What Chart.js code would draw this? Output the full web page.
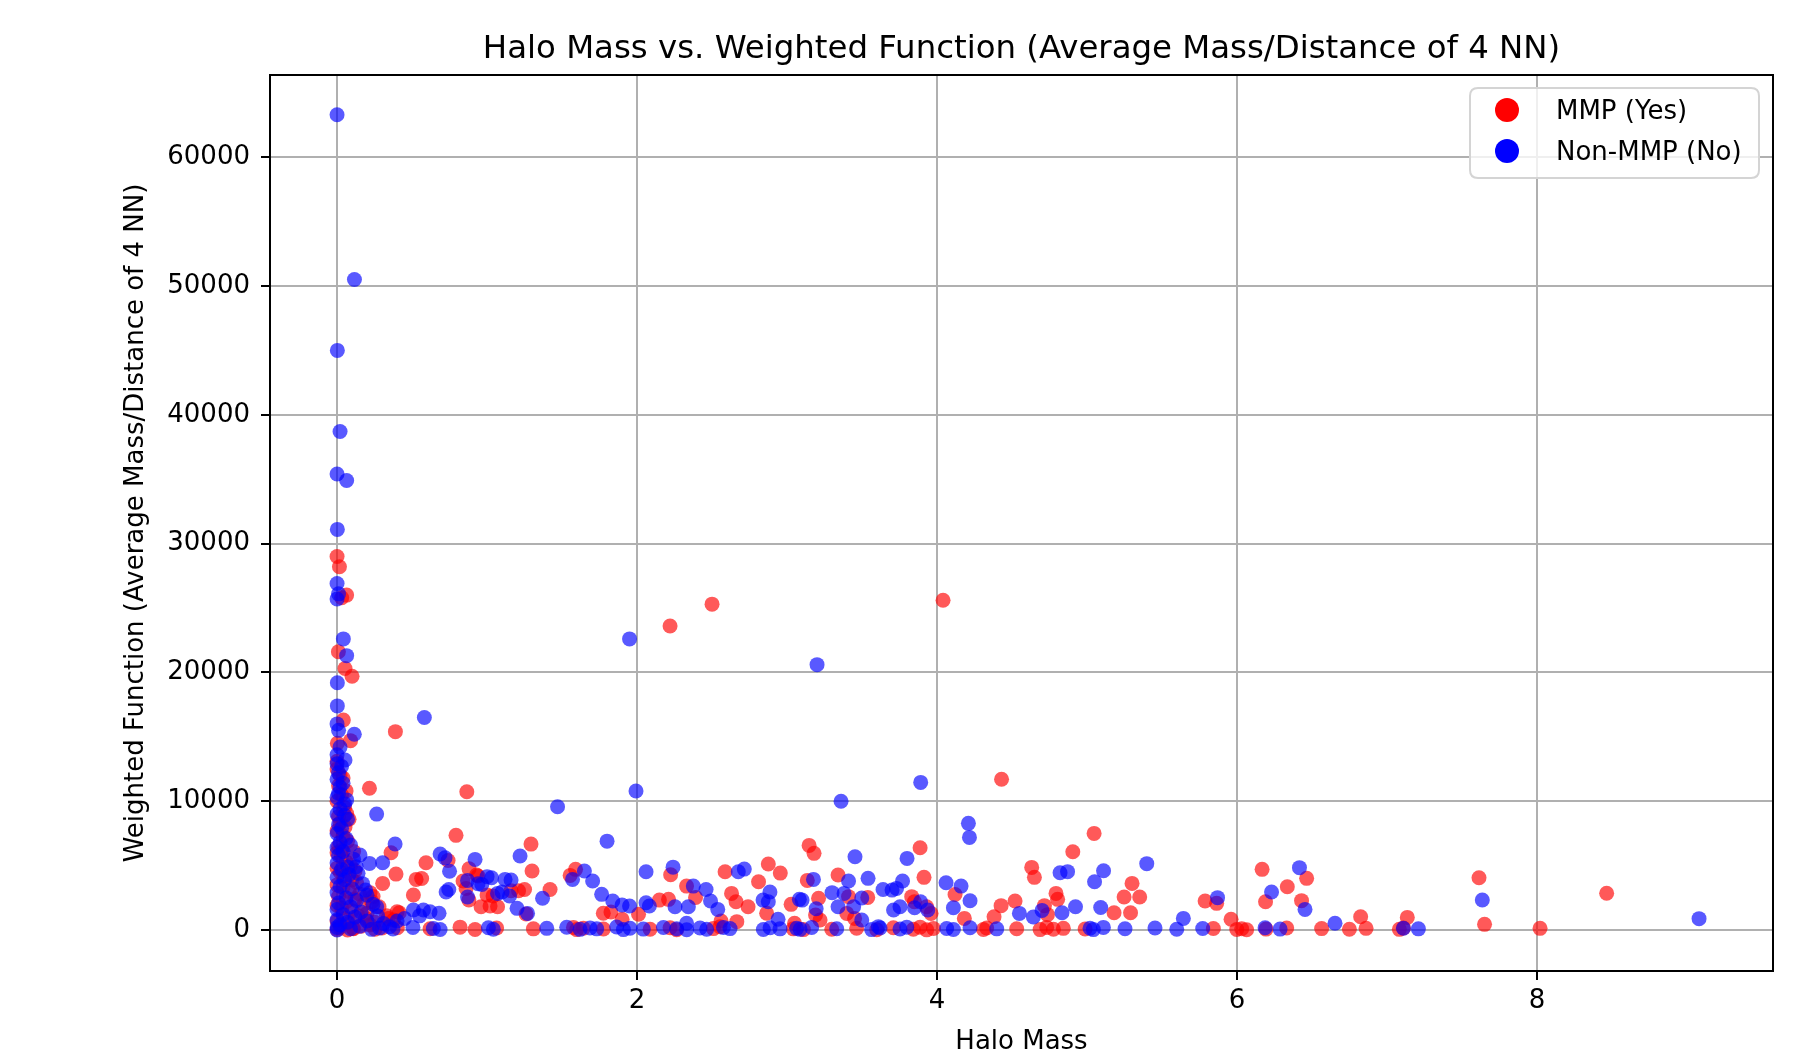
<!DOCTYPE html>
<html><head><meta charset="utf-8">
<script src="https://cdn.jsdelivr.net/npm/chart.js@4.4.1/dist/chart.umd.min.js"></script>
<style>html,body{margin:0;padding:0;background:#fff;}canvas{display:block;}</style>
</head><body>
<canvas id="c" width="1796" height="1053"></canvas>
<script>
const chartTitle = 'Halo Mass vs. Weighted Function (Average Mass/Distance of 4 NN)';
const xAxisTitle = 'Halo Mass';
const yAxisTitle = 'Weighted Function (Average Mass/Distance of 4 NN)';
const seriesLabels = ['MMP (Yes)', 'Non-MMP (No)'];
const seriesFill = ['rgba(255,0,0,0.65)', 'rgba(0,0,255,0.65)'];
const legendFill = ['#ff0000', '#0000ff'];
const xTicks = [0, 2, 4, 6, 8];
const yTicks = [0, 10000, 20000, 30000, 40000, 50000, 60000];
const xRange = [-0.447, 9.573];
const yRange = [-3183, 66381];

// MMP (Yes): [halo mass, weighted function]
const mmpPoints = [
 [0.000,29000],[0.016,28200],[0.064,26000],[0.031,25800],[0.009,21600],[0.053,20300],[0.100,19700],[0.042,16300],
 [0.090,14700],[0.002,14500],[0.000,13100],[0.389,15400],[0.216,11000],[0.064,9050],[0.053,8000],
 [0.000,12500],[0.020,12000],[0.040,11800],[0.010,11200],[0.060,10800],[0.030,10500],[0.000,10000],[0.050,9500],
 [0.010,8800],[0.080,8600],[0.020,8300],[0.000,7700],[0.040,7300],[0.070,6900],[0.010,6500],[0.030,6200],
 [0.110,6100],[0.000,6000],[0.030,5700],[0.060,5300],[0.090,5000],[0.000,4800],[0.120,4600],[0.020,4500],
 [0.050,4200],[0.100,3900],[0.130,3700],[0.000,3500],[0.040,3300],[0.080,3000],[0.150,2800],[0.010,2600],
 [0.240,2600],[0.120,2400],[0.060,2200],[0.180,2000],[0.000,1900],[0.280,1800],[0.030,1700],[0.100,1500],
 [0.200,1300],[0.140,1100],[0.330,1100],[0.050,900],[0.190,900],[0.000,700],[0.250,600],[0.080,500],
 [0.220,400],[0.160,300],[0.020,200],[0.300,150],[0.110,100],[0.000,50],[0.070,0],
 [0.360,6000],[0.593,5220],[0.393,4340],[0.564,4000],[0.304,3620],[0.220,2900],[0.509,2720],[0.231,2200],
 [0.415,1340],[0.376,780],[0.400,1420],[0.340,900],[0.527,3930],
 [0.865,10730],[0.793,7350],[1.293,6670],[0.740,5400],[0.880,4760],[0.940,4190],[1.300,4580],[0.840,3800],
 [0.860,3230],[1.250,3150],[1.210,3050],[1.040,2640],[1.020,1860],[1.070,1810],[1.420,3150],[1.554,4240],
 [1.590,4710],[1.826,1400],[1.775,1300],[1.900,830],[2.010,1220],[2.224,4290],[2.149,2320],[2.210,2380],
 [2.330,3410],[2.390,2530],[2.587,4520],[2.630,2840],[2.660,2190],[2.740,1810],[2.810,3750],[2.875,5120],
 [2.955,4420],[2.864,1300],[3.027,1990],[3.147,6570],[3.180,5950],[3.135,3850],[3.050,520],[2.665,650],
 [2.560,700],[0.879,2330],[0.930,4270],[1.000,2710],[0.960,1810],[1.160,3050],[1.260,1240],
 [2.220,23600],[2.500,25300],[4.040,25600],[4.430,11700],
 [5.047,7500],[4.905,6080],[3.887,6390],[4.631,4860],[4.649,4090],[5.300,3620],[5.247,2560],[5.351,2560],
 [5.180,1340],[5.290,1340],[4.793,2840],[4.804,2380],[4.716,1890],[4.736,1190],[4.520,2250],[4.427,1890],
 [4.380,1030],[4.182,900],[4.120,2760],[3.913,4090],[3.340,4270],[3.538,2530],[3.410,2590],[3.210,2460],
 [3.398,1290],[3.450,900],[3.190,1160],[3.831,2590],[3.849,2190],[3.930,1810],[3.960,1290],[3.220,780],
 [6.167,4710],[6.464,4010],[6.335,3360],[6.190,2190],[6.430,2280],[5.787,2250],[5.864,2070],[5.960,830],
 [6.824,1030],[7.135,980],[7.613,4060],[7.650,440],[8.020,130],[8.464,2850],
 [0.105,120],[0.253,60],[0.402,180],[0.620,100],[0.820,220],[0.920,40],[1.064,150],[1.309,90],
 [1.576,200],[1.598,30],[1.642,140],[1.776,80],[2.087,60],[2.220,170],[2.264,20],[2.509,110],
 [2.553,250],[3.042,90],[3.109,30],[3.298,60],[3.464,140],[3.598,20],[3.709,180],[3.842,60],
 [3.887,220],[3.931,10],[3.976,120],[4.309,40],[4.331,150],[4.531,100],[4.687,30],[4.731,200],
 [4.776,60],[4.842,130],[4.987,80],[5.842,120],[5.998,40],[6.031,100],[6.064,20],[6.193,70],
 [6.331,150],[6.564,110],[6.749,60],[6.860,130],[7.082,50],[7.109,160]
];

// Non-MMP (No): [halo mass, weighted function]
const nonMmpPoints = [
 [0.000,63300],[0.116,50500],[0.002,45000],[0.020,38700],[0.000,35400],[0.064,34900],[0.002,31100],[0.000,26900],
 [0.010,26100],[0.000,25700],[0.042,22600],[0.064,21300],[0.002,19200],[0.002,17400],[0.000,16000],[0.010,15500],
 [0.115,15200],[0.582,16500],[0.020,14200],[0.053,13200],[0.010,12200],[0.020,11100],[0.264,9000],[0.064,10100],
 [0.000,13600],[0.000,12900],[0.030,12700],[0.000,11700],[0.040,11400],[0.010,10600],[0.000,10300],[0.050,9800],
 [0.020,9400],[0.000,9000],[0.050,8900],[0.070,8600],[0.010,8200],[0.030,7900],[0.000,7500],[0.060,7100],
 [0.020,6800],[0.090,6600],[0.000,6400],[0.040,6100],[0.010,5800],[0.110,5500],[0.000,5200],[0.070,4900],
 [0.030,4700],[0.140,4400],[0.080,4300],[0.000,4100],[0.050,3900],[0.170,3600],[0.020,3400],[0.100,3200],
 [0.190,3100],[0.000,2900],[0.200,2700],[0.060,2500],[0.130,2300],[0.010,2100],[0.240,2000],[0.090,1800],
 [0.000,1600],[0.160,1400],[0.040,1200],[0.270,1100],[0.120,1000],[0.000,800],[0.200,700],[0.070,600],
 [0.310,500],[0.020,400],[0.150,300],[0.350,250],[0.000,200],[0.090,100],[0.230,50],[0.000,0],
 [0.387,6680],[0.153,5820],[0.216,5170],[0.304,5220],[0.127,4920],[0.264,1810],[0.509,1550],[0.576,1550],
 [0.620,1420],[0.400,700],[0.450,900],[0.550,1100],[0.680,1300],
 [1.993,10790],[1.470,9570],[1.800,6900],[0.687,5900],[0.720,5600],[0.920,5480],[1.220,5740],[0.750,4560],
 [1.030,4060],[0.965,3540],[1.160,3880],[0.745,3150],[1.100,2950],[1.150,2640],[1.370,2460],[1.570,3930],
 [1.649,4580],[1.704,3800],[1.764,2770],[1.838,2250],[1.950,1860],[2.060,4520],[2.240,4880],[2.060,2120],
 [2.082,1860],[2.375,3410],[2.460,3150],[2.490,2250],[2.538,1600],[2.253,1810],[2.342,1810],[2.675,4520],
 [2.715,4730],[2.886,2950],[2.840,2320],[2.875,2190],[3.082,2380],[2.940,830],[2.330,520],[0.727,2950],
 [0.940,3590],[0.870,3850],[0.870,2560],[1.000,4140],[1.070,2840],[1.120,3930],[1.200,1680],[1.270,1290],
 [1.900,1940],
 [1.950,22600],[3.200,20600],[3.360,10000],[3.891,11460],[4.209,8280],[4.216,7190],
 [3.453,5690],[3.800,5560],[5.398,5150],[4.820,4450],[4.870,4530],[5.110,4600],[5.050,3750],[5.091,1750],
 [4.923,1810],[4.700,1520],[4.833,1340],[4.549,1290],[4.642,1010],[4.060,3670],[4.160,3410],[4.220,2270],
 [4.109,1730],[3.176,3930],[3.410,3800],[3.540,4010],[3.640,3150],[3.700,3100],[3.730,3230],[3.770,3800],
 [3.300,2900],[3.380,2840],[3.498,2480],[3.444,1810],[3.340,1810],[3.194,1650],[3.100,2320],[3.710,1550],
 [3.753,1810],[3.850,1730],[3.890,2190],[3.938,1550],[3.498,780],[3.609,260],
 [6.416,4840],[6.230,2950],[6.453,1600],[5.870,2510],[5.642,900],[6.653,520],[7.635,2330],[9.080,880],
 [0.283,150],[0.373,80],[0.506,200],[0.642,120],[0.687,40],[1.009,180],[1.042,60],[1.398,130],
 [1.531,210],[1.620,50],[1.687,160],[1.731,90],[1.864,230],[1.909,30],[1.953,140],[2.042,70],
 [2.176,190],[2.264,100],[2.331,20],[2.420,150],[2.464,60],[2.576,200],[2.620,110],[2.842,40],
 [2.887,170],[2.953,90],[3.064,130],[3.087,50],[3.164,200],[3.331,100],[3.564,30],[3.620,160],
 [3.753,80],[3.798,220],[4.064,120],[4.109,40],[4.220,180],[4.398,90],[5.020,140],[5.042,30],
 [5.109,200],[5.253,100],[5.453,150],[5.598,60],[5.771,120],[6.187,180],[6.287,70],[7.109,140],
 [7.209,90]
];

const FONT = 'DejaVu Sans';
const toXY = pts => pts.map(p => ({x: p[0], y: p[1]}));

const framePlugin = {
  id: 'frame',
  afterDraw(chart) {
    const {ctx, chartArea: a} = chart;
    ctx.save();
    // title centred over the axes
    ctx.font = '32.4px "' + FONT + '"';
    ctx.fillStyle = '#000';
    ctx.textAlign = 'center';
    ctx.textBaseline = 'middle';
    ctx.fillText(chartTitle, (a.left + a.right) / 2, a.top - 25);
    // axes box
    ctx.strokeStyle = '#000';
    ctx.lineWidth = 2;
    ctx.strokeRect(a.left, a.top, a.right - a.left, a.bottom - a.top);
    // legend
    const w = 289, h = 90;
    const x0 = a.right - 14 - w, y0 = a.top + 13, r = 8;
    ctx.beginPath();
    ctx.moveTo(x0 + r, y0);
    ctx.lineTo(x0 + w - r, y0); ctx.quadraticCurveTo(x0 + w, y0, x0 + w, y0 + r);
    ctx.lineTo(x0 + w, y0 + h - r); ctx.quadraticCurveTo(x0 + w, y0 + h, x0 + w - r, y0 + h);
    ctx.lineTo(x0 + r, y0 + h); ctx.quadraticCurveTo(x0, y0 + h, x0, y0 + h - r);
    ctx.lineTo(x0, y0 + r); ctx.quadraticCurveTo(x0, y0, x0 + r, y0);
    ctx.closePath();
    ctx.fillStyle = 'rgba(255,255,255,0.8)';
    ctx.fill();
    ctx.strokeStyle = '#d4d4d4';
    ctx.lineWidth = 2;
    ctx.stroke();
    ctx.font = '26px "' + FONT + '"';
    ctx.textBaseline = 'middle';
    ctx.textAlign = 'left';
    seriesLabels.forEach((lab, i) => {
      const cy = y0 + 22 + i * 41;
      ctx.beginPath();
      ctx.arc(x0 + 37, cy, 12, 0, Math.PI * 2);
      ctx.fillStyle = legendFill[i];
      ctx.fill();
      ctx.fillStyle = '#000';
      ctx.fillText(lab, x0 + 86, cy + 2);
    });
    ctx.restore();
  }
};

new Chart(document.getElementById('c'), {
  type: 'scatter',
  data: {
    datasets: [
      {label: seriesLabels[1], data: toXY(nonMmpPoints), backgroundColor: seriesFill[1], borderWidth: 0, pointRadius: 7.5},
      {label: seriesLabels[0], data: toXY(mmpPoints), backgroundColor: seriesFill[0], borderWidth: 0, pointRadius: 7.5}
    ]
  },
  options: {
    responsive: false,
    animation: false,
    devicePixelRatio: 1,
    layout: {padding: {left: 0, right: 23, top: 75, bottom: 0}},
    plugins: {
      legend: {display: false},
      tooltip: {enabled: false},
      title: {display: false}
    },
    scales: {
      x: {
        type: 'linear', min: xRange[0], max: xRange[1], z: 1,
        afterFit: s => { s.height = 82; },
        afterBuildTicks: s => { s.ticks = xTicks.map(v => ({value: v})); },
        grid: {color: '#b0b0b0', lineWidth: 2, tickLength: 9, tickColor: '#000', tickWidth: 2},
        border: {display: false},
        ticks: {color: '#000', padding: 6, maxRotation: 0, font: {family: FONT, size: 26}, callback: v => String(v)},
        title: {display: true, text: xAxisTitle, color: '#000', font: {family: FONT, size: 26}, padding: {top: 0, bottom: -5}}
      },
      y: {
        type: 'linear', min: yRange[0], max: yRange[1], z: 1,
        afterFit: s => { s.width = 270; },
        afterBuildTicks: s => { s.ticks = yTicks.map(v => ({value: v})); },
        grid: {color: '#b0b0b0', lineWidth: 2, tickLength: 9, tickColor: '#000', tickWidth: 2},
        border: {display: false},
        ticks: {color: '#000', padding: 11, font: {family: FONT, size: 26}, callback: v => String(v)},
        title: {display: true, text: yAxisTitle, color: '#000', font: {family: FONT, size: 26}, padding: {top: 121, bottom: 0}}
      }
    }
  },
  plugins: [framePlugin]
});
</script>
</body></html>
